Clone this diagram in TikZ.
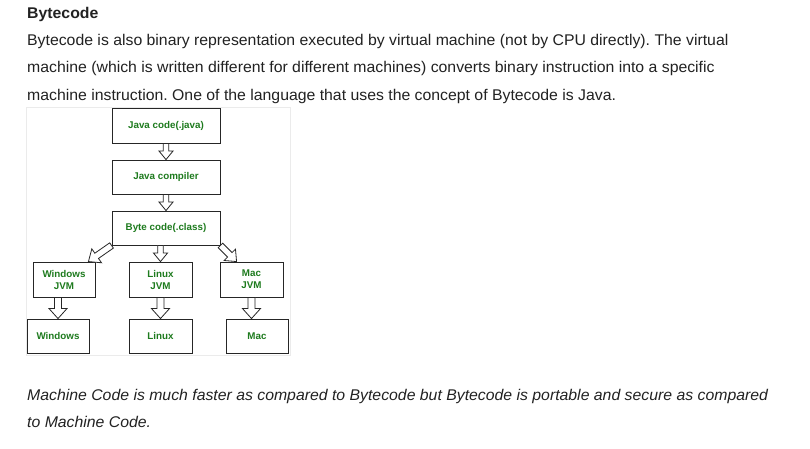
\documentclass[tikz,border=0pt]{standalone}
\usepackage{fontspec}
\setmainfont{Liberation Sans}[FakeStretch=1.02]
\newfontfamily\diagfont{Liberation Sans}
\usetikzlibrary{calc}
\frenchspacing
\definecolor{jgreen}{RGB}{30,123,30}
\definecolor{bodytext}{RGB}{34,34,34}
\tikzset{
  box/.style={draw=black!85, line width=0.9pt, fill=white, text=jgreen,
    font=\diagfont\bfseries\fontsize{9.8}{12}\selectfont, align=center, inner sep=1pt},
  arrowline/.style={draw=black!85, fill=white, line width=0.8pt, line join=miter},
  bodyline/.style={anchor=base west, inner sep=0pt, text=bodytext, font=\fontsize{15.5}{18}\selectfont}
}
\newcommand\blockarrow[5]{%
  \draw[arrowline] let \p1=(#1), \p2=(#2),
      \n1={atan2(\y2-\y1,\x2-\x1)}, \n2={veclen(\x2-\x1,\y2-\y1)} in
    ($(\p1)+(\n1+90:#3)$) -- ($(\p1)+(\n1:\n2-#5)+(\n1+90:#3)$)
    -- ($(\p1)+(\n1:\n2-#5)+(\n1+90:#4)$) -- (\p2)
    -- ($(\p1)+(\n1:\n2-#5)+(\n1-90:#4)$) -- ($(\p1)+(\n1:\n2-#5)+(\n1-90:#3)$)
    -- ($(\p1)+(\n1-90:#3)$) -- cycle;}
\begin{document}
\begin{tikzpicture}[x=1pt,y=-1pt]
\useasboundingbox (0,0) rectangle (810,448);
\fill[white] (0,0) rectangle (810,448);

% text
\node[bodyline, font=\bfseries\fontsize{15.5}{18}\selectfont] (head) at (27,18.5) {Bytecode};
\node[bodyline] (l1) at (27,45) {Bytecode is also binary representation executed by virtual machine (not by CPU directly). The virtual};
\node[bodyline] (l2) at (27,72.5) {machine (which is written different for different machines) converts binary instruction into a specific};
\node[bodyline] (l3) at (27,100) {machine instruction. One of the language that uses the concept of Bytecode is Java.};
\node[bodyline, font=\itshape\fontsize{15.5}{18}\selectfont] (i1) at (27,400) {Machine Code is much faster as compared to Bytecode but Bytecode is portable and secure as compared};
\node[bodyline, font=\itshape\fontsize{15.5}{18}\selectfont] (i2) at (27,427) {to Machine Code.};

% diagram panel
\draw[black!8, line width=1pt] (26,107) rectangle (290,355);

% boxes
\node[box, minimum width=108pt, minimum height=35pt] (jc) at (166,125.5) {Java code(.java)};
\node[box, minimum width=108pt, minimum height=34pt] (comp) at (166,177) {Java compiler};
\node[box, minimum width=108pt, minimum height=34pt] (bc) at (166,228) {Byte code(.class)};
\node[box, minimum width=62pt, minimum height=35pt] (wj) at (64,279.5) {Windows\\JVM};
\node[box, minimum width=63pt, minimum height=35pt] (lj) at (160.5,279.5) {Linux\\JVM};
\node[box, minimum width=63pt, minimum height=35pt] (mj) at (251.5,279.5) {Mac\\JVM};
\node[box, minimum width=62pt, minimum height=34pt] (w) at (58,336) {Windows};
\node[box, minimum width=63pt, minimum height=34pt] (l) at (160.5,336) {Linux};
\node[box, minimum width=62pt, minimum height=34pt] (m) at (257,336) {Mac};

% arrows
\coordinate (bcl) at (bc.south -| lj.north);
\coordinate (wdl) at ($(wj.north east)+(-7,0)$);
\coordinate (mdr) at ($(mj.north west)+(17,0)$);
\coordinate (wjs) at (wj.south -| w.north);
\coordinate (mjm) at (mj.south |- m.north);
\blockarrow{jc.south}{comp.north}{2.8pt}{7pt}{8.5pt}
\blockarrow{comp.south}{bc.north}{2.8pt}{7pt}{8.5pt}
\blockarrow{bcl}{lj.north}{2.8pt}{7pt}{8.5pt}
\blockarrow{bc.south west}{wdl}{3.2pt}{8.5pt}{10pt}
\blockarrow{bc.south east}{mdr}{3.2pt}{8pt}{9.5pt}
\blockarrow{wjs}{w.north}{3.5pt}{9pt}{10pt}
\blockarrow{lj.south}{l.north}{3.5pt}{9pt}{10pt}
\blockarrow{mj.south}{mjm}{3.5pt}{9pt}{10pt}
\end{tikzpicture}
\end{document}
